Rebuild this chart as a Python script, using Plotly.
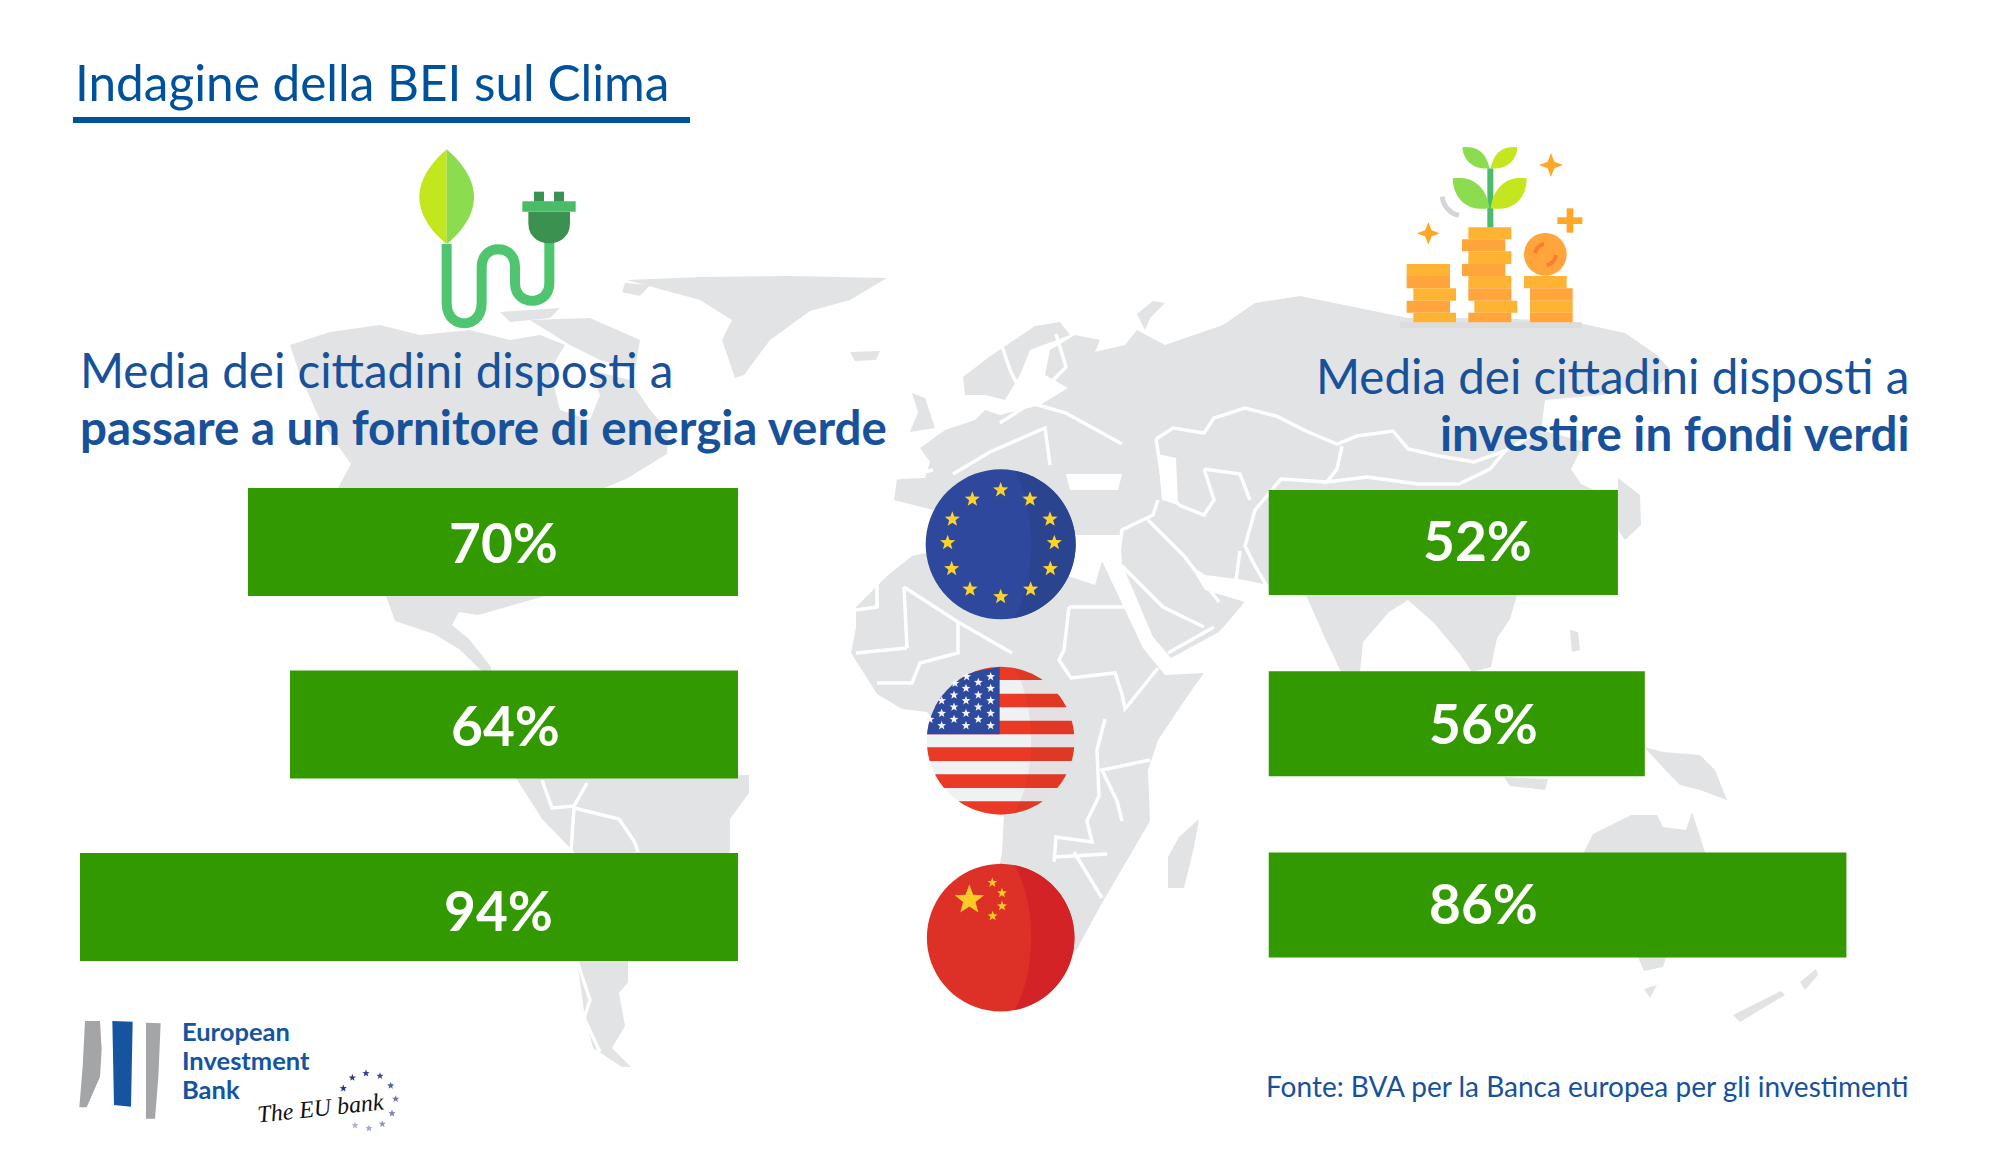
"""Indagine BEI sul clima: barre orizzontali su planisfero decorativo."""
import math

import plotly.graph_objects as go

W, H = 2000, 1155

REGIONS = ["UE", "USA", "Cina"]
SWITCH_ENERGY = [70, 64, 94]
GREEN_FUNDS = [52, 56, 86]

TITLE = "Indagine della BEI sul Clima"
LEFT_HEAD = ["Media dei cittadini disposti a", "passare a un fornitore di energia verde"]
RIGHT_HEAD = ["Media dei cittadini disposti a", "investire in fondi verdi"]
SOURCE = "Fonte: BVA per la Banca europea per gli investimenti"
LOGO_LINES = ["European", "Investment", "Bank"]
TAGLINE = "The EU bank"

BLUE = "#17519b"
TITLE_BLUE = "#00519b"
BAR_GREEN = "#339900"
LAND = "#e2e3e4"
FONT = "Lato, sans-serif"

# contorni approssimati del planisfero, in pixel
LAND_SHAPES = [
    # Nord America
    [(290, 345), (330, 332), (380, 325), (420, 335), (470, 330), (510, 340), (540, 335), (565, 345),
     (550, 370), (560, 410), (590, 420), (600, 395), (590, 370), (630, 380), (650, 410), (668, 430),
     (667, 454), (626, 479), (600, 490), (585, 520), (565, 560), (545, 596), (478, 615), (459, 612),
     (452, 625), (470, 640), (491, 667), (491, 680), (459, 649), (434, 634), (395, 621), (386, 596),
     (350, 540), (338, 488), (351, 464), (320, 420), (300, 375)],
    # Groenlandia
    [(627, 280), (700, 277), (790, 276), (887, 278), (850, 300), (810, 311), (770, 340), (744, 375),
     (735, 378), (722, 340), (732, 320), (700, 300)],
    # isole artiche
    [(530, 320), (590, 318), (640, 340), (635, 370), (600, 360), (570, 345)],
    [(625, 283), (650, 285), (640, 296), (622, 292)],
    [(500, 312), (560, 308), (550, 318), (510, 322)],
    [(850, 352), (880, 351), (876, 360), (855, 361)],
    # Sud America
    [(516, 778), (749, 775), (749, 793), (730, 819), (730, 852), (690, 920), (628, 961), (628, 982),
     (619, 993), (625, 1026), (612, 1048), (631, 1067), (622, 1067), (593, 1048), (584, 1011),
     (577, 961), (574, 852), (542, 819)],
    # Eurasia
    [(894, 500), (897, 479), (925, 478), (930, 462), (920, 448), (945, 430), (975, 420), (985, 410),
     (1000, 415), (1040, 405), (1068, 388), (1045, 375), (1050, 350), (1075, 335), (1100, 340),
     (1095, 352), (1125, 345), (1137, 330), (1165, 345), (1223, 325), (1255, 303), (1300, 296),
     (1408, 318), (1500, 318), (1574, 322), (1625, 333), (1657, 355), (1672, 372), (1652, 392),
     (1622, 388), (1603, 395), (1545, 400), (1541, 430), (1585, 442), (1571, 469), (1581, 484),
     (1605, 495), (1600, 560), (1517, 595), (1510, 619), (1497, 638), (1491, 667), (1472, 672),
     (1459, 653), (1434, 623), (1408, 600), (1389, 612), (1363, 642), (1360, 672), (1341, 672),
     (1325, 638), (1306, 595), (1290, 590), (1245, 580), (1205, 575), (1190, 565), (1205, 590),
     (1245, 602), (1219, 632), (1171, 658), (1153, 637), (1122, 564), (1120, 535), (1075, 535),
     (1060, 505), (980, 480), (933, 510)],
    # Scandinavia
    [(963, 377), (989, 357), (1035, 326), (1060, 322), (1070, 335), (1030, 350), (1020, 375),
     (1005, 400), (985, 395), (965, 395)],
    # Gran Bretagna, Novaya Zemlya
    [(912, 393), (925, 398), (935, 428), (910, 432), (918, 412)],
    [(1137, 314), (1153, 301), (1165, 303), (1150, 318), (1145, 330)],
    # Africa
    [(912, 556), (960, 545), (1050, 570), (1095, 585), (1102, 561), (1143, 648), (1165, 675),
     (1204, 673), (1189, 694), (1158, 740), (1148, 770), (1150, 821), (1102, 903), (1077, 949),
     (1045, 985), (1000, 990), (985, 950), (1002, 852), (1004, 816), (927, 712), (902, 709),
     (877, 694), (851, 653), (856, 627), (856, 607), (887, 576)],
    # Madagascar
    [(1199, 819), (1194, 847), (1184, 888), (1168, 888), (1168, 857), (1179, 837)],
    # Giappone e Filippine
    [(1618, 478), (1640, 495), (1641, 525), (1625, 540), (1618, 530)],
    [(1570, 630), (1578, 632), (1580, 650), (1572, 652)],
    # Indonesia e Nuova Guinea
    [(1504, 777), (1548, 779), (1545, 790), (1510, 786)],
    [(1644, 747), (1663, 752), (1700, 755), (1715, 770), (1727, 800), (1700, 790), (1680, 785),
     (1670, 775)],
    # Australia
    [(1584, 852), (1593, 834), (1631, 815), (1657, 815), (1663, 827), (1686, 830), (1692, 812),
     (1705, 852), (1700, 920), (1666, 957), (1663, 967), (1644, 971), (1638, 957), (1600, 930)],
    [(1644, 989), (1657, 985), (1650, 998)],
    # Nuova Zelanda
    [(1733, 1015), (1781, 991), (1785, 995), (1740, 1022)],
    [(1800, 982), (1816, 969), (1818, 975), (1805, 990)],
]

# mari interni, disegnati in bianco sulle terre
SEA_SHAPES = [
    [(1066, 474), (1122, 474), (1118, 490), (1070, 490)],
    [(1158, 454), (1176, 458), (1178, 505), (1162, 500)],
    [(1025, 395), (1040, 380), (1040, 400), (1030, 408)],
]

# confini bianchi, in pixel
BORDERS = [
    [(1156, 439), (1173, 428), (1204, 433), (1214, 418), (1245, 408), (1276, 416), (1306, 431),
     (1337, 444), (1357, 436), (1393, 431), (1408, 449), (1439, 456), (1474, 462), (1505, 451),
     (1536, 433)],
    [(1342, 446), (1337, 469), (1327, 482), (1367, 477), (1418, 484), (1459, 484), (1490, 469),
     (1505, 451)],
    [(1327, 482), (1281, 479), (1255, 510), (1245, 546), (1255, 566), (1270, 592)],
    [(1156, 439), (1163, 484), (1179, 505)],
    [(1204, 469), (1240, 474), (1250, 500)],
    [(1204, 469), (1214, 500), (1204, 515), (1179, 505)],
    [(1158, 500), (1153, 515), (1122, 530), (1117, 566)],
    [(1148, 520), (1184, 556), (1219, 602)],
    [(1240, 551), (1235, 587), (1245, 602)],
    [(1122, 566), (1163, 607), (1204, 627)],
    [(1168, 653), (1214, 627)],
    [(1069, 607), (1130, 607)],
    [(1069, 607), (1064, 650), (1059, 660), (1071, 678), (1115, 673), (1122, 694), (1125, 709),
     (1158, 668)],
    [(1105, 719), (1097, 750), (1099, 796), (1087, 821), (1092, 842), (1056, 837), (1054, 862)],
    [(1122, 821), (1117, 801), (1102, 770), (1150, 760)],
    [(1054, 857), (1107, 854)],
    [(1074, 852), (1102, 898)],
    [(904, 587), (907, 648)],
    [(904, 587), (958, 622), (1012, 653)],
    [(856, 610), (877, 607), (877, 577)],
    [(907, 648), (856, 653)],
    [(958, 622), (958, 653), (920, 663), (912, 683), (877, 683)],
    [(1000, 340), (1010, 370), (1020, 390)],
    [(1056, 334), (1066, 367), (1031, 403), (1000, 423)],
    [(1031, 403), (1066, 413), (1122, 444)],
    [(953, 474), (990, 452), (1045, 428), (1050, 465)],
    [(897, 478), (933, 470)],
    [(542, 780), (552, 808), (574, 806), (587, 783)],
    [(574, 808), (619, 819), (634, 841), (638, 852)],
    [(574, 808), (571, 852)],
    [(577, 961), (590, 1000), (584, 1018), (600, 1052)],
]

EU_STARS = [(302, 90), (390, 118), (450, 178), (463, 248), (451, 326), (392, 388), (302, 410),
            (210, 388), (155, 326), (143, 248), (157, 178), (217, 118)]
US_STARS = [(200, 65), (272, 65), (235, 82), (165, 85), (198, 100), (272, 100), (162, 120),
            (235, 120), (125, 137), (198, 137), (272, 137), (162, 156), (235, 156), (125, 175),
            (198, 175), (272, 175), (90, 193), (162, 193), (235, 193), (125, 212), (198, 212),
            (272, 212)]
US_STRIPES = [35, 75, 116, 157, 197, 238, 277, 318, 358, 399, 439, 479]
CN_SMALL_STARS = [(277, 98), (306, 129), (306, 168), (278, 198)]
LOGO_STARS = [(850, 265), (877, 233), (918, 220), (960, 228), (992, 257), (1007, 297), (996, 340),
              (967, 372), (927, 385), (885, 376)]
LOGO_STAR_COLORS = ["#28358c", "#2d3b90", "#333f92", "#3d4a98", "#555fa3",
                    "#6a73ad", "#7d85b8", "#8f95c2", "#a3a8cc", "#b0b4d2"]

COIN_LIGHT = "#ffb332"
COIN_DARK = "#ffa53c"
COIN_RECTS = [
    (20, 372, 150, 408, COIN_LIGHT), (20, 408, 150, 445, COIN_DARK), (40, 445, 168, 482, COIN_LIGHT),
    (20, 482, 150, 518, COIN_DARK), (40, 518, 168, 547, COIN_LIGHT),
    (205, 262, 334, 298, COIN_LIGHT), (186, 298, 316, 334, COIN_DARK), (205, 334, 334, 372, COIN_LIGHT),
    (186, 372, 316, 408, COIN_DARK), (205, 408, 334, 445, COIN_LIGHT), (205, 445, 334, 482, COIN_DARK),
    (223, 482, 352, 518, COIN_LIGHT), (205, 518, 334, 547, COIN_DARK),
    (372, 408, 500, 445, COIN_LIGHT), (390, 445, 518, 482, COIN_DARK), (390, 482, 518, 518, COIN_LIGHT),
    (390, 518, 518, 547, COIN_DARK),
]

shapes = []
annotations = []


def px(x):
    return x / W


def py(y):
    return 1 - y / H


def path_of(points, close=True):
    d = "M " + " L ".join(f"{px(x):.5f},{py(y):.5f}" for x, y in points)
    return d + " Z" if close else d


def fill(points, color, layer="above"):
    shapes.append(dict(type="path", xref="paper", yref="paper", path=path_of(points), fillcolor=color,
                       line=dict(width=0), layer=layer))


def stroke(points, color, width, layer="above"):
    shapes.append(dict(type="path", xref="paper", yref="paper", path=path_of(points, close=False),
                       fillcolor="rgba(0,0,0,0)", line=dict(color=color, width=width), layer=layer))


def bezier(p0, p1, p2, p3, n=14):
    out = []
    for i in range(n + 1):
        t = i / n
        a, b, c, d = (1 - t) ** 3, 3 * t * (1 - t) ** 2, 3 * t * t * (1 - t), t ** 3
        out.append((a * p0[0] + b * p1[0] + c * p2[0] + d * p3[0],
                    a * p0[1] + b * p1[1] + c * p2[1] + d * p3[1]))
    return out


def circle(cx, cy, r, n=72):
    return [(cx + r * math.cos(2 * math.pi * i / n), cy + r * math.sin(2 * math.pi * i / n)) for i in range(n)]


def star(cx, cy, r, color, layer="above"):
    pts = []
    for i in range(10):
        rad = r if i % 2 == 0 else r * 0.42
        a = -math.pi / 2 + i * math.pi / 5
        pts.append((cx + rad * math.cos(a), cy + rad * math.sin(a)))
    fill(pts, color, layer)


def band(cx, cy, r, y0, y1, x_max=None, n=14):
    """Porzione del cerchio tra due orizzontali, eventualmente tagliata a destra."""
    right, left = [], []
    for i in range(n + 1):
        y = y0 + (y1 - y0) * i / n
        half = math.sqrt(max(r * r - (y - cy) ** 2, 0))
        xr = cx + half
        if x_max is not None:
            xr = min(xr, x_max)
        right.append((xr, y))
        left.append((cx - half, y))
    return right + left[::-1]


def crescent(cx, cy, r):
    """Ombra sul lato destro della bandiera."""
    a0 = math.acos(14 / r)
    outer = [(cx + r * math.cos(-a0 + 2 * a0 * i / 30), cy + r * math.sin(-a0 + 2 * a0 * i / 30)) for i in range(31)]
    inner = bezier(outer[-1], (cx + 36, cy + r * 0.45), (cx + 36, cy - r * 0.45), outer[0])
    return outer + inner


def label(x, y, text, size, color=BLUE, anchor="left", bold=False, font=FONT, rot=0, italic=False):
    annotations.append(dict(xref="paper", yref="paper", x=px(x), y=py(y), text=text, showarrow=False,
                            xanchor=anchor, yanchor="middle", textangle=rot, align=anchor,
                            font=dict(family=font, size=size, color=color,
                                      weight="bold" if bold else "normal",
                                      style="italic" if italic else "normal")))


# planisfero
for land in LAND_SHAPES:
    fill(land, LAND, "below")
for sea in SEA_SHAPES:
    fill(sea, "#ffffff", "below")
for line in BORDERS:
    stroke(line, "#ffffff", 3.5, "below")


# bandiere
def z5(x, y):
    return 900 + x / 3, 460 + y / 3


def z6(x, y):
    return 900 + x / 3, 655 + y / 3


def z7(x, y):
    return 900 + x / 3, 850 + y / 3


cx, cy = z5(302, 253)
fill(circle(cx, cy, 75), "#2e489d")
fill(crescent(cx, cy, 75), "#2a448f")
for s in EU_STARS:
    star(*z5(*s), 8, "#fcd22b")

cx, cy = z6(302, 257)
r = 73.8
fill(circle(cx, cy, r), "#eff1f3")
for i in range(0, len(US_STRIPES) - 1, 2):
    fill(band(cx, cy, r, z6(0, US_STRIPES[i])[1], z6(0, US_STRIPES[i + 1])[1]), "#ea3a25")
fill(band(cx, cy, r, z6(0, 35)[1], z6(0, 238)[1], x_max=cx - 1), "#2d4a9e")
fill(crescent(cx, cy, r), "rgba(120,40,40,0.08)")
for s in US_STARS:
    star(*z6(*s), 4.6, "#f4f5f7")

cx, cy = z7(302, 263)
fill(circle(cx, cy, r), "#dd3127")
fill(crescent(cx, cy, r), "#d42327")
star(*z7(208, 150), 15.5, "#fdcb26")
for s in CN_SMALL_STARS:
    star(*z7(*s), 5.2, "#fdcb26")


# icona foglia e spina
def z8(x, y):
    return 400 + x / 3, 140 + y / 3


cable = [z8(140, 312), z8(140, 490)]
cable += [z8(*p) for p in bezier((140, 490), (140, 570), (245, 570), (245, 490))]
cable += [z8(245, 380)]
cable += [z8(*p) for p in bezier((245, 380), (245, 310), (345, 310), (345, 380))]
cable += [z8(345, 430)]
cable += [z8(*p) for p in bezier((345, 430), (345, 500), (448, 500), (448, 430))]
cable += [z8(448, 305)]
stroke(cable, "#4fc56f", 10)
tip, base = (140, 28), (140, 312)
fill([z8(*p) for p in bezier(tip, (85, 75), (58, 125), (58, 170)) + bezier((58, 170), (58, 230), (100, 280), base)],
     "#c3e61e")
fill([z8(*p) for p in bezier(tip, (195, 75), (222, 125), (222, 170)) + bezier((222, 170), (222, 230), (180, 280), base)],
     "#8cdc50")
fill([z8(385, 215), z8(510, 215), z8(510, 250)] + [z8(*p) for p in bezier((510, 250), (510, 330), (385, 330), (385, 250))],
     "#3b9150")
for x0, x1 in [(402, 432), (462, 492)]:
    fill([z8(x0, 155), z8(x1, 155), z8(x1, 185), z8(x0, 185)], "#3b9150")
fill([z8(367, 184), z8(527, 184), z8(527, 215), z8(367, 215)], "#4cbb68")


# icona monete e piantina
def z9(x, y):
    return 1400 + x / 3, 140 + y / 3


def rect9(x0, y0, x1, y1, color):
    fill([z9(x0, y0), z9(x1, y0), z9(x1, y1), z9(x0, y1)], color)


def sparkle(x, y, rad, color="#ffa726"):
    k = rad * 0.28
    fill([z9(x, y - rad), z9(x + k, y - k), z9(x + rad, y), z9(x + k, y + k),
          z9(x, y + rad), z9(x - k, y + k), z9(x - rad, y), z9(x - k, y - k)], color)


rect9(0, 547, 545, 565, "#dcdcdc")
for rc in COIN_RECTS:
    rect9(*rc)
fill([z9(x, y) for x, y in circle(436, 343, 64, 40)], COIN_DARK)
stroke([z9(*p) for p in bezier((405, 340), (408, 325), (418, 315), (432, 312), 8)], "#fb7d32", 4)
stroke([z9(*p) for p in bezier((468, 345), (465, 362), (455, 372), (440, 376), 8)], "#fb7d32", 4)
sparkle(453, 75, 36)
sparkle(85, 280, 34)
rect9(500, 205, 520, 278, "#ffa726")
rect9(472, 232, 547, 252, "#ffa726")
rect9(262, 85, 280, 262, "#4dbb6e")
stroke([z9(*p) for p in bezier((127, 170), (128, 195), (150, 222), (177, 226), 8)], "#d4d5d6", 5)
fill([z9(*p) for p in bezier((187, 22), (240, 15), (262, 50), (268, 85)) + bezier((268, 85), (225, 90), (190, 65), (187, 22))],
     "#8cdc50")
fill([z9(*p) for p in bezier((352, 22), (300, 15), (278, 50), (272, 85)) + bezier((272, 85), (315, 90), (350, 65), (352, 22))],
     "#c3e61e")
fill([z9(*p) for p in bezier((158, 115), (225, 105), (262, 150), (268, 205)) + bezier((268, 205), (205, 215), (160, 180), (158, 115))],
     "#8cdc50")
fill([z9(*p) for p in bezier((380, 115), (315, 105), (278, 150), (272, 205)) + bezier((272, 205), (335, 215), (380, 180), (380, 115))],
     "#c3e61e")


# logo
def z10(x, y):
    return 60 + x / 3, 1000 + y / 3


fill([z10(*p) for p in [(75, 63), (120, 63), (125, 150), (120, 230), (80, 322), (58, 322), (68, 200)]], "#a4a5a7")
fill([z10(*p) for p in [(157, 63), (218, 65), (213, 320), (162, 315)]], "#15549f")
fill([z10(*p) for p in [(258, 68), (302, 70), (295, 230), (285, 356), (258, 356)]], "#a4a5a7")
for s, col in zip(LOGO_STARS, LOGO_STAR_COLORS):
    star(*z10(*s), 3.8, col)

for (ln, yy) in zip(LOGO_LINES, [1031, 1060, 1089]):
    label(180, yy, ln, 25.5, "#15549f", bold=True)
label(320, 1108, TAGLINE, 24, "#111111", anchor="center", font="Liberation Serif, serif", rot=-6, italic=True)

# testi
label(73, 82, TITLE, 49.5, TITLE_BLUE)
fill([(73, 117), (690, 117), (690, 123), (73, 123)], TITLE_BLUE)
label(78, 369, LEFT_HEAD[0], 47.5)
label(78, 426, LEFT_HEAD[1], 47.5, bold=True)
label(1911, 375, RIGHT_HEAD[0], 47.5, anchor="right")
label(1911, 432, RIGHT_HEAD[1], 47.5, anchor="right", bold=True)
label(1911, 1086, SOURCE, 28, anchor="right")

# etichette delle barre
LEFT_LABEL_POS = [(503, 542), (505, 725), (498, 910)]
RIGHT_LABEL_POS = [(1477, 540), (1483, 723), (1483, 903)]
for v, (x, y) in zip(SWITCH_ENERGY, LEFT_LABEL_POS):
    label(x, y, f"{v}%", 55, "#ffffff", anchor="center", bold=True)
for v, (x, y) in zip(GREEN_FUNDS, RIGHT_LABEL_POS):
    label(x, y, f"{v}%", 55, "#ffffff", anchor="center", bold=True)

fig = go.Figure()
fig.add_trace(go.Bar(y=REGIONS, x=SWITCH_ENERGY, orientation="h", width=0.592, marker=dict(color=BAR_GREEN, line=dict(width=0)),
                     xaxis="x", yaxis="y", hoverinfo="x+y", showlegend=False))
fig.add_trace(go.Bar(y=REGIONS, x=GREEN_FUNDS, orientation="h", width=0.58, marker=dict(color=BAR_GREEN, line=dict(width=0)),
                     xaxis="x2", yaxis="y2", hoverinfo="x+y", showlegend=False))

fig.update_layout(
    width=W,
    height=H,
    margin=dict(l=0, r=0, t=0, b=0),
    paper_bgcolor="#ffffff",
    plot_bgcolor="rgba(0,0,0,0)",
    showlegend=False,
    shapes=shapes,
    annotations=annotations,
    xaxis=dict(domain=[38 / W, 738 / W], range=[100, 0], visible=False, fixedrange=True),
    yaxis=dict(domain=[1 - 998.25 / H, 1 - 450.75 / H], range=[2.5, -0.5], type="category",
               categoryorder="array", categoryarray=REGIONS, visible=False, fixedrange=True),
    xaxis2=dict(domain=[1268.5 / W, 1940.5 / W], range=[0, 100], visible=False, fixedrange=True),
    yaxis2=dict(domain=[1 - 995.5 / H, 1 - 452 / H], range=[2.5, -0.5], type="category",
                categoryorder="array", categoryarray=REGIONS, visible=False, fixedrange=True),
)

fig.write_html("out.html", post_script="document.body.style.margin='0';document.body.style.overflow='hidden';",
               config={"displayModeBar": False})
